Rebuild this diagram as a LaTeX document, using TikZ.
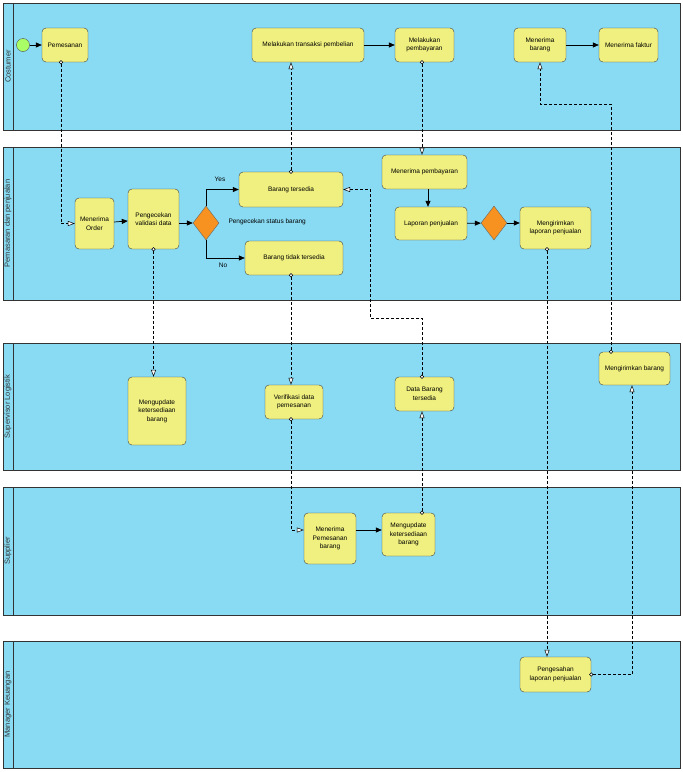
\documentclass[tikz,border=0pt]{standalone}
\usepackage{fontspec}
\setmainfont{Liberation Sans}
\usetikzlibrary{arrows.meta,shapes.geometric}
\definecolor{lane}{RGB}{137,219,243}
\definecolor{taskf}{RGB}{240,240,128}
\definecolor{gw}{RGB}{247,146,32}
\tikzset{
 lanebox/.style={draw=black!80, fill=lane, line width=0.6pt},
 lanelbl/.style={rotate=90, font=\fontsize{7.5}{8}\selectfont, text=black!80},
 task/.style={draw=black!75, fill=taskf, rounded corners=4pt, align=center, font=\fontsize{6.5}{8.5}\selectfont, inner sep=1pt},
 gate/.style={diamond, draw=black!60, fill=gw, minimum width=26pt, minimum height=34pt, inner sep=0pt},
 seq/.style={-{Triangle[length=6pt,width=5pt]}, line width=0.7pt},
 msg/.style={dash pattern=on 3pt off 2pt, {Circle[open,fill=white,length=4pt,width=4pt,line width=0.5pt,sep=-2pt]}-{Triangle[open,fill=white,length=7pt,width=5pt,line width=0.5pt]}, line width=0.5pt},
 lbl/.style={font=\fontsize{6.5}{7}\selectfont}
}
\begin{document}
\begin{tikzpicture}[x=1pt,y=-1pt]
\useasboundingbox (0,0) rectangle (683,772);
\fill[white] (0,0) rectangle (683,772);
% lanes
\foreach \a/\b/\n in {3/130/Costumer,147/300/Pemasaran dan penjualan,343/470/Supervisor Logistik,487/615/Supplier,641/768/Manager Keuangan}{
 \draw[lanebox] (3,\a) rectangle (680,\b);
 \draw[black!80] (13,\a) -- (13,\b);
 \node[lanelbl] at (8,{(\a+\b)/2}) {\n};
}
% nodes
\node[draw=black!70, fill=green!55!yellow!60, circle, minimum size=13pt, inner sep=0pt] (st) at (23,45) {};
\node[task, minimum width=46pt, minimum height=34pt] (pem) at (65,45) {Pemesanan};
\node[task, minimum width=112pt, minimum height=34pt] (trx) at (308,45) {Melakukan transaksi pembelian};
\node[task, minimum width=59pt, minimum height=34pt] (bay) at (424.5,45) {Melakukan\\pembayaran};
\node[task, minimum width=52pt, minimum height=34pt] (mbr) at (540,45) {Menerima\\barang};
\node[task, minimum width=59pt, minimum height=34pt] (fak) at (628.5,45) {Menerima faktur};

\node[task, minimum width=39pt, minimum height=51pt] (ord) at (94.5,223.5) {Menerima\\Order};
\node[task, minimum width=51pt, minimum height=60pt] (val) at (153.5,219) {Pengecekan\\validasi data};
\node[gate] (g1) at (206,223) {};
\node[task, minimum width=104pt, minimum height=35pt] (ts) at (291,189.5) {Barang tersedia};
\node[task, minimum width=98pt, minimum height=34pt] (tts) at (294,258) {Barang tidak tersedia};
\node[task, minimum width=85pt, minimum height=34pt] (mpb) at (424.5,172) {Menerima pembayaran};
\node[task, minimum width=72pt, minimum height=33pt] (lap) at (431,223.5) {Laporan penjualan};
\node[gate] (g2) at (494,223) {};
\node[task, minimum width=71pt, minimum height=42pt] (kl) at (555.5,228) {Mengirimkan\\laporan penjualan};

\node[task, minimum width=58pt, minimum height=68pt] (upd1) at (157,411) {Mengupdate\\ketersediaan\\barang};
\node[task, minimum width=58pt, minimum height=34pt] (ver) at (294,402) {Verifikasi data\\pemesanan};
\node[task, minimum width=59pt, minimum height=34pt] (dbt) at (424.5,394) {Data Barang\\tersedia};
\node[task, minimum width=71pt, minimum height=33pt] (kb) at (634.5,368.5) {Mengirimkan barang};

\node[task, minimum width=52pt, minimum height=51pt] (mps) at (330,538.5) {Menerima\\Pemesanan\\barang};
\node[task, minimum width=53pt, minimum height=43pt] (upd2) at (408.5,534.5) {Mengupdate\\ketersediaan\\barang};

\node[task, minimum width=71pt, minimum height=35pt] (sah) at (555.5,674.5) {Pengesahan\\laporan penjualan};

% labels
\node[lbl] (yes) at (220,179) {Yes};
\node[lbl] (no) at (223,265) {No};
\node[lbl, anchor=west] (cek) at (225,222) {Pengecekan status barang};

% sequence flows
\draw[seq] (st) -- (pem);
\draw[seq] (trx) -- (bay);
\draw[seq] (mbr) -- (fak);
\draw[seq] (ord) -- (val);
\draw[seq] (val.east |- g1) -- (g1);
\draw[seq] (g1.north) |- (ts.west);
\draw[seq] (g1.south) |- (tts.west);
\draw[seq] (428,189) -- (lap.north -| 428,0);
\draw[seq] (lap) -- (g2);
\draw[seq] (g2) -- (kl.west |- g2);
\draw[seq] (mps.east |- 530,530) -- (upd2.west |- 530,530);

% message flows
\draw[msg] (pem.south -| 61,0) |- (ord.west);
\draw[msg] (ts.north) -- (trx.south -| ts.north);
\draw[msg] (bay.south -| 422,0) -- (mpb.north -| 422,0);
\draw[msg] (val.south) -- (upd1.north -| val.south);
\draw[msg] (tts.south -| 291,0) -- (ver.north -| 291,0);
\draw[msg] (ver.south -| 291,0) |- (mps.west |- 0,530);
\draw[msg] (upd2.north -| 422,0) -- (dbt.south -| 422,0);
\draw[msg] (dbt.north -| 422,0) -- (422,318) -- (370,318) |- (ts.east);
\draw[msg] (kl.south -| 547,0) -- (sah.north -| 547,0);
\draw[msg] (sah.east) -| (kb.south -| 632,0);
\draw[msg] (kb.north -| 611,0) -- (611,104) -| (mbr.south);
\end{tikzpicture}
\end{document}
